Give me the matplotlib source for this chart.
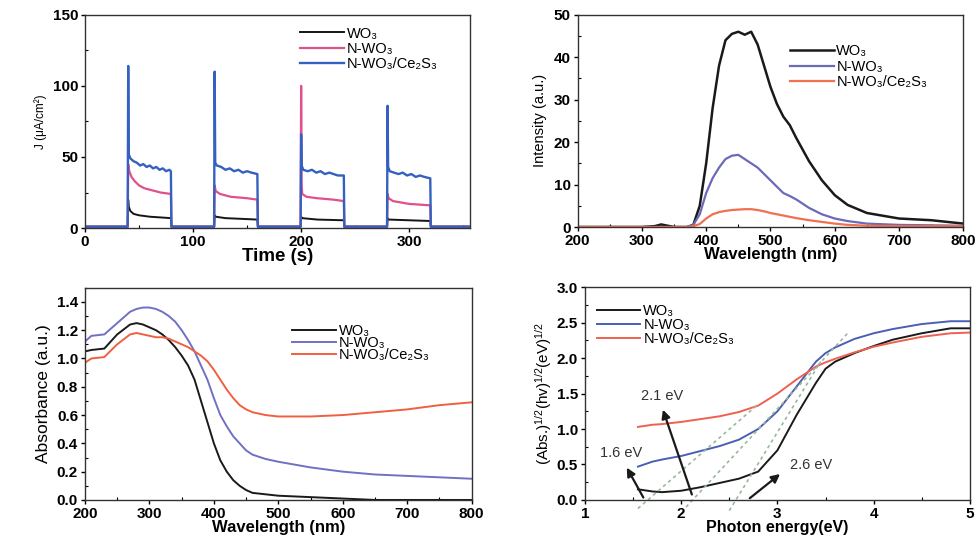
import matplotlib
matplotlib.use("Agg")
import matplotlib.pyplot as plt
from matplotlib.ticker import MultipleLocator

plt.rcParams['font.family'] = ['Liberation Sans', 'DejaVu Sans']
plt.rcParams['mathtext.fontset'] = 'custom'
plt.rcParams['mathtext.rm'] = 'Liberation Sans'
plt.rcParams['mathtext.it'] = 'Liberation Sans'

labels = ['WO₃', 'N-WO₃', 'N-WO₃/Ce₂S₃']

# --- photocurrent (chopped light) ---
t_wo3 = [0, 39.5, 40, 40.5, 42, 45, 50, 60, 70, 79.5, 80, 119.5, 120, 121, 130, 145, 159.5, 160,
         199.5, 200, 201, 215, 239.5, 240, 279.5, 280, 281, 300, 319.5, 320, 355]
j_wo3 = [1, 1, 20, 15, 12, 10, 9, 8, 7.5, 7, 1, 1, 9, 8, 7, 6.5, 6, 1,
         1, 8, 7, 6, 5.5, 1, 1, 7, 6, 5.5, 5, 1, 1]
t_nwo3 = [0, 39.5, 40, 41, 43, 46, 50, 55, 60, 70, 79.5, 80, 119.5, 120, 121, 125, 135, 150, 159.5, 160,
          199.5, 200, 200.5, 201, 205, 215, 230, 239.5, 240, 279.5, 280, 281, 285, 300, 319.5, 320, 355]
j_nwo3 = [1, 1, 45, 40, 36, 33, 30, 28, 27, 25, 24, 1, 1, 30, 26, 24, 22, 21, 20, 1,
          1, 100, 30, 24, 22, 21, 20, 19, 1, 1, 24, 21, 19, 17, 16, 1, 1]
t_ce = [0, 39.5, 40, 40.5, 42, 45, 48, 51, 54, 57, 60, 63, 66, 69, 72, 75, 78, 79.5, 80,
        119.5, 120, 120.5, 122, 126, 130, 134, 138, 142, 146, 150, 154, 159.5, 160,
        199.5, 200, 200.5, 202, 206, 210, 214, 218, 222, 226, 230, 234, 239.5, 240,
        279.5, 280, 280.5, 282, 286, 290, 294, 298, 302, 306, 310, 314, 319.5, 320, 355]
j_ce = [1, 1, 114, 52, 49, 47, 46, 44, 45, 43, 44, 42, 43, 41, 42, 40, 41, 40, 1,
        1, 110, 46, 44, 43, 41, 42, 40, 41, 39, 40, 39, 38, 1,
        1, 66, 44, 41, 40, 41, 39, 40, 38, 39, 38, 37, 37, 1,
        1, 86, 43, 40, 39, 38, 39, 37, 38, 36, 37, 36, 35, 1, 1]

# --- PL spectra ---
wl_pl = [200, 300, 320, 330, 340, 350, 370, 380, 390, 400, 410, 420, 430, 440, 450, 460, 470, 480,
         490, 500, 510, 520, 530, 540, 560, 580, 600, 620, 650, 700, 750, 800]
pl_wo3 = [0, 0, 0.2, 0.6, 0.3, 0, 0, 0.5, 5, 15, 28, 38, 44, 45.5, 46, 45.3, 46, 43,
          38, 33, 29, 26, 24, 21, 15.5, 11, 7.5, 5.2, 3.3, 2, 1.6, 0.8]
pl_nwo3 = [0, 0, 0, 0, 0, 0, 0, 0.5, 3, 8, 11.5, 14, 16, 16.8, 17, 16, 15, 14,
           12.5, 11, 9.5, 8, 7.3, 6.5, 4.5, 3, 2, 1.4, 0.8, 0.5, 0.4, 0.3]
pl_ce = [0, 0, 0, 0, 0, 0, 0, 0.2, 0.7, 2, 3, 3.5, 3.8, 4, 4.1, 4.2, 4.2, 4,
         3.7, 3.3, 3, 2.7, 2.4, 2.1, 1.6, 1.2, 0.8, 0.5, 0.3, 0.2, 0.2, 0.2]

# --- UV-vis absorbance ---
wl_abs = [200, 210, 230, 250, 270, 280, 290, 300, 310, 320, 330, 340, 350, 360, 370, 380, 390, 400,
          410, 420, 430, 440, 450, 460, 480, 500, 550, 600, 650, 700, 750, 800]
abs_wo3 = [1.05, 1.06, 1.07, 1.17, 1.24, 1.25, 1.24, 1.22, 1.2, 1.17, 1.13, 1.08, 1.02, 0.95, 0.85, 0.7, 0.55, 0.4,
           0.28, 0.2, 0.14, 0.1, 0.07, 0.05, 0.04, 0.03, 0.02, 0.01, 0.0, 0.0, 0.0, 0.0]
abs_nwo3 = [1.12, 1.16, 1.17, 1.25, 1.33, 1.35, 1.36, 1.36, 1.35, 1.33, 1.3, 1.26, 1.2, 1.13, 1.05, 0.95, 0.85, 0.72,
            0.6, 0.52, 0.45, 0.4, 0.35, 0.32, 0.29, 0.27, 0.23, 0.2, 0.18, 0.17, 0.16, 0.15]
abs_ce = [0.97, 1.0, 1.01, 1.1, 1.17, 1.18, 1.17, 1.16, 1.15, 1.15, 1.14, 1.12, 1.1, 1.08, 1.05, 1.02, 0.98, 0.92,
          0.85, 0.78, 0.72, 0.67, 0.64, 0.62, 0.6, 0.59, 0.59, 0.6, 0.62, 0.64, 0.67, 0.69]

# --- Tauc plot ---
e_tauc = [1.55, 1.7, 1.8, 2.0, 2.2, 2.4, 2.6, 2.8, 3.0, 3.2, 3.4, 3.5, 3.6, 3.8, 4.0, 4.2, 4.5, 4.8, 5.0]
tauc_wo3 = [0.15, 0.12, 0.11, 0.13, 0.18, 0.24, 0.3, 0.4, 0.7, 1.2, 1.65, 1.85, 1.95, 2.07, 2.17, 2.26, 2.35, 2.42, 2.42]
tauc_nwo3 = [0.47, 0.54, 0.57, 0.62, 0.69, 0.76, 0.85, 1.0, 1.25, 1.6, 1.95, 2.07, 2.15, 2.27, 2.35, 2.41, 2.48, 2.52, 2.52]
tauc_ce = [1.03, 1.06, 1.07, 1.1, 1.14, 1.18, 1.24, 1.33, 1.5, 1.7, 1.88, 1.94, 1.99, 2.08, 2.16, 2.22, 2.3, 2.35, 2.36]
fit_x = [[1.55, 2.8], [2.05, 3.73], [2.5, 3.45]]
fit_y = [[-0.12, 1.35], [-0.1, 2.35], [-0.15, 1.95]]
gaps = ['1.6 eV', '2.1 eV', '2.6 eV']
gap_tail = [(1.62, 0.0), (2.12, 0.04), (2.69, 0.0)]
gap_head = [(1.42, 0.49), (1.8, 1.31), (3.05, 0.39)]
gap_text = [(1.38, 0.66), (1.8, 1.46), (3.35, 0.49)]

fig = plt.figure(figsize=(9.79, 5.47), dpi=100)
ax1 = fig.add_axes([0.0868, 0.583, 0.393, 0.390])
ax2 = fig.add_axes([0.590, 0.585, 0.394, 0.388])
ax3 = fig.add_axes([0.0868, 0.086, 0.395, 0.388])
ax4 = fig.add_axes([0.5976, 0.086, 0.393, 0.389])


def style(ax, xmaj, xmin, ymaj, ymin):
    ax.xaxis.set_major_locator(MultipleLocator(xmaj))
    ax.xaxis.set_minor_locator(MultipleLocator(xmin))
    ax.yaxis.set_major_locator(MultipleLocator(ymaj))
    ax.yaxis.set_minor_locator(MultipleLocator(ymin))
    ax.tick_params(which='major', direction='out', length=3, width=1, labelsize=11, pad=2)
    ax.tick_params(which='minor', direction='in', length=2, width=0.8)
    for lab in ax.get_xticklabels() + ax.get_yticklabels():
        lab.set_fontweight('bold')
    for s in ax.spines.values():
        s.set_linewidth(1.0)
        s.set_color('#333333')


def legend(ax, x, y, size, spacing):
    ax.legend(loc='upper left', bbox_to_anchor=(x, y), frameon=False, fontsize=size,
              handlelength=3.0, handletextpad=0.2, labelspacing=spacing,
              borderpad=0, borderaxespad=0)


# panel 1
ax1.plot(t_wo3, j_wo3, color='#151515', lw=1.4, label=labels[0])
ax1.plot(t_nwo3, j_nwo3, color='#e0508c', lw=1.6, label=labels[1])
ax1.plot(t_ce, j_ce, color='#3460c0', lw=1.7, label=labels[2])
ax1.set_xlim(0, 356)
ax1.set_ylim(0, 150)
style(ax1, 100, 50, 50, 25)
ax1.set_xlabel('Time (s)', fontsize=13.5, fontweight='bold', labelpad=-1)
ax1.set_ylabel('J (μA/cm²)', fontsize=8.5, labelpad=4)
legend(ax1, 0.56, 0.945, 10.5, 0.1)

# panel 2
ax2.plot(wl_pl, pl_wo3, color='#1a1a1a', lw=1.8, label=labels[0])
ax2.plot(wl_pl, pl_nwo3, color='#6a6ab8', lw=1.6, label=labels[1])
ax2.plot(wl_pl, pl_ce, color='#f07050', lw=1.6, label=labels[2])
ax2.set_xlim(200, 800)
ax2.set_ylim(0, 50)
style(ax2, 100, 50, 10, 5)
ax2.set_xlabel('Wavelength (nm)', fontsize=12, fontweight='bold', labelpad=-1)
ax2.set_ylabel('Intensity (a.u.)', fontsize=10.5, labelpad=5)
legend(ax2, 0.55, 0.86, 10.5, 0.1)

# panel 3
ax3.plot(wl_abs, abs_wo3, color='#1a1a1a', lw=1.4, label=labels[0])
ax3.plot(wl_abs, abs_nwo3, color='#7070c4', lw=1.4, label=labels[1])
ax3.plot(wl_abs, abs_ce, color='#f06040', lw=1.4, label=labels[2])
ax3.set_xlim(200, 800)
ax3.set_ylim(0, 1.5)
style(ax3, 100, 50, 0.2, 0.1)
ax3.set_xlabel('Wavelength (nm)', fontsize=12, fontweight='bold', labelpad=-1)
ax3.set_ylabel('Absorbance (a.u.)', fontsize=12.5, labelpad=4)
legend(ax3, 0.535, 0.83, 10.5, -0.12)

# panel 4
ax4.plot(e_tauc, tauc_wo3, color='#1a1a1a', lw=1.4, label=labels[0])
ax4.plot(e_tauc, tauc_nwo3, color='#4a5fb4', lw=1.4, label=labels[1])
ax4.plot(e_tauc, tauc_ce, color='#f06050', lw=1.4, label=labels[2])
for fx, fy in zip(fit_x, fit_y):
    ax4.plot(fx, fy, color='#9ab89a', lw=1.2, ls=(0, (2, 2)), clip_on=False)
for txt, tail, head, pos in zip(gaps, gap_tail, gap_head, gap_text):
    ax4.annotate('', xy=head, xytext=tail,
                 arrowprops=dict(arrowstyle='-|>,head_length=0.5,head_width=0.25', color='#1a1a1a', lw=1.6))
    ax4.text(pos[0], pos[1], txt, fontsize=10.5, ha='center', va='center', color='#333333')
ax4.set_xlim(1, 5)
ax4.set_ylim(0, 3)
style(ax4, 1, 0.5, 0.5, 0.25)
ax4.set_xlabel('Photon energy(eV)', fontsize=11.5, fontweight='bold', labelpad=-1)
ax4.set_ylabel(r'(Abs.)$^{1/2}$(hv)$^{1/2}$(eV)$^{1/2}$', fontsize=11, labelpad=2)
legend(ax4, 0.03, 0.92, 10.5, 0.0)

fig.savefig('out.png', dpi=100)
